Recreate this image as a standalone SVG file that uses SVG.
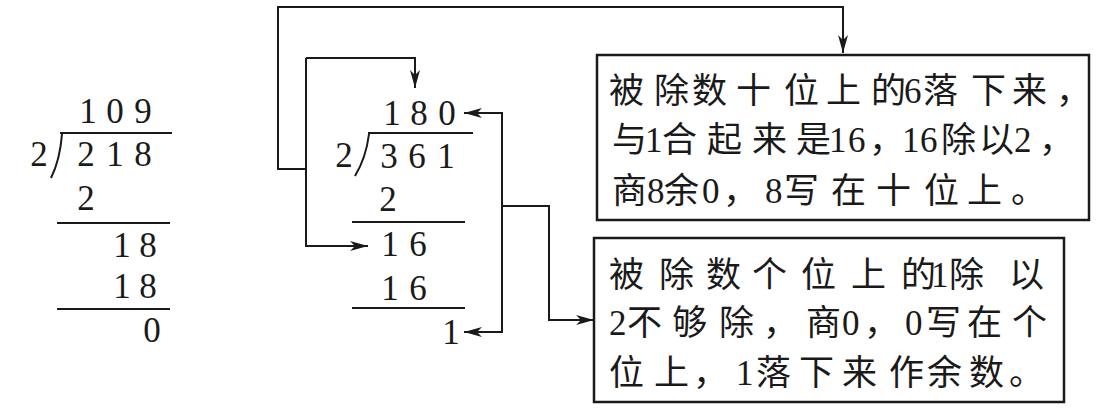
<svg xmlns="http://www.w3.org/2000/svg" width="1107" height="412" viewBox="0 0 1107 412">
<style>
.num{font-family:"Liberation Serif","Times New Roman",serif;font-size:35px;fill:#1a1a1a;text-anchor:middle}
.txt{font-family:"Liberation Serif","Noto Sans CJK SC",serif;font-size:35px;fill:#1a1a1a}
.ln{stroke:#1a1a1a;stroke-width:2;fill:none}
.box{stroke:#1a1a1a;stroke-width:2.5;fill:#fff}
.con{stroke:#1a1a1a;stroke-width:2;fill:none}
</style>
<defs>
<marker id="ah" markerUnits="userSpaceOnUse" markerWidth="20" markerHeight="10" refX="18" refY="5" orient="auto">
<path d="M0,0 L18,5 L0,10 L5,5 Z" fill="#1a1a1a"/>
</marker>
</defs>
<rect width="1107" height="412" fill="#fff"/>

<g id="division-left">
<text class="num" x="88 115 143" y="123">109</text>
<path class="ln" d="M60,133 H172"/>
<path class="ln" d="M62,134 Q60,160 51,178"/>
<text class="num" x="39" y="166">2</text>
<text class="num" x="86 115 143" y="166">218</text>
<text class="num" x="86" y="210">2</text>
<path class="ln" d="M57,223 H170"/>
<text class="num" x="122 148" y="257">18</text>
<text class="num" x="122 148" y="298">18</text>
<path class="ln" d="M57,309 H170"/>
<text class="num" x="152" y="342">0</text>
</g>

<g id="division-middle">
<text class="num" x="392 419 447" y="125">180</text>
<path class="ln" d="M368,133 H473"/>
<path class="ln" d="M369,134 Q366,158 355,176"/>
<text class="num" x="344" y="167">2</text>
<text class="num" x="389 417 446" y="168">361</text>
<text class="num" x="388" y="211">2</text>
<path class="ln" d="M352,222 H465"/>
<text class="num" x="390 418" y="256">16</text>
<text class="num" x="390 418" y="300">16</text>
<path class="ln" d="M352,308 H465"/>
<text class="num" x="451" y="344">1</text>
</g>

<g id="box-tens">
<rect class="box" x="597" y="55" width="492" height="165"/>
<text class="txt" x="609 654 692 736 784 826 871 904 923 971 1012 1056" y="103">被除数十位上的6落下来，</text>
<text class="txt" x="612 645 662 707 752 796 829 848 869 902 920 941 979 1014 1039" y="152">与1合起来是16，16除以2，</text>
<text class="txt" x="612 647 664 702 723 765 784 831 876 924 967 1011" y="203">商8余0，8写在十位上。</text>
</g>

<g id="box-ones">
<rect class="box" x="594" y="238" width="470" height="164"/>
<text class="txt" x="609 659 706 752 801 851 901 931 949 1009" y="287">被除数个位上的1除以</text>
<text class="txt" x="609 627 672 719 763 806 842 864 905 926 967 1012" y="335">2不够除，商0，0写在个</text>
<text class="txt" x="609 654 693 736 756 799 842 889 927 969 1009" y="385">位上，1落下来作余数。</text>
</g>

<g id="connectors">
<path class="con" d="M306,169 H278 V7 H843 V53" marker-end="url(#ah)"/>
<path class="con" d="M306,58 H415 V88" marker-end="url(#ah)"/>
<path class="con" d="M306,58 V246 H368" marker-end="url(#ah)"/>
<path class="con" d="M502,206 V113 H464" marker-end="url(#ah)"/>
<path class="con" d="M502,206 V332 H464" marker-end="url(#ah)"/>
<path class="con" d="M502,206 H549 V320 H594" marker-end="url(#ah)"/>
</g>
</svg>
